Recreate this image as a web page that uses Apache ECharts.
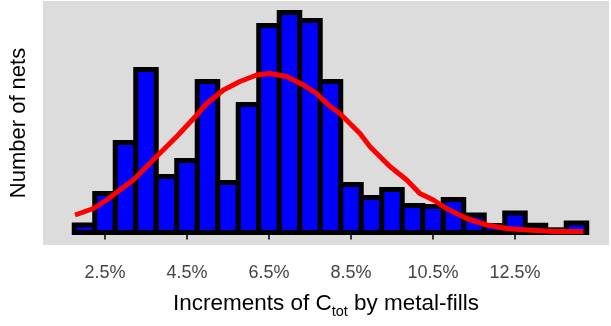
<!DOCTYPE html>
<html>
<head>
<meta charset="utf-8">
<script src="https://cdn.jsdelivr.net/npm/echarts@6/dist/echarts.min.js"></script>
<style>
html,body{margin:0;padding:0;background:#fff;}
#chart{width:611px;height:326px;}
</style>
</head>
<body>
<div id="chart"></div>
<script>
// Histogram bins (centre of each 0.5% bin, in %)
var binCenters = [2.0, 2.5, 3.0, 3.5, 4.0, 4.5, 5.0, 5.5, 6.0, 6.5, 7.0, 7.5, 8.0,
                  8.5, 9.0, 9.5, 10.0, 10.5, 11.0, 11.5, 12.0, 12.5, 13.0, 13.5, 14.0];
var binWidth = 0.5;
// Number of nets in each bin (relative units)
var binCounts = [7.5, 39, 90, 163, 56, 72, 151, 50, 128, 207, 220, 212, 151,
                 48, 35, 43, 27, 26, 33, 17.5, 7, 19.5, 7.3, 2.7, 9.5];
// Fitted density curve (x in %, y in same units)
var curveX = [1.77, 2.22, 2.54, 2.70, 3.19, 3.76, 4.25, 4.74, 4.98, 5.39, 5.79, 6.20,
              6.52, 6.93, 7.34, 7.66, 7.99, 8.23, 8.72, 8.96, 9.45, 9.86, 10.18, 10.51,
              10.83, 11.32, 11.81, 12.30, 12.79, 13.43, 14.17];
var curveY = [17.5, 24, 32.5, 37.5, 52.5, 76, 96, 117.5, 129, 142.5, 151, 157.5,
              159, 156, 147.5, 139, 126, 119, 99, 86, 66, 52.5, 39, 32.5,
              24, 14, 7.5, 4, 2.5, 1, 1];
// Axis ticks
var tickValues = [2.5, 4.5, 6.5, 8.5, 10.5, 12.5];
var tickLabels = ['2.5%', '4.5%', '6.5%', '8.5%', '10.5%', '12.5%'];

var barData = binCenters.map(function (x, i) { return [x, binCounts[i]]; });
var curveData = curveX.map(function (x, i) { return [x, curveY[i]]; });

var chart = echarts.init(document.getElementById('chart'), null, {renderer: 'canvas'});
var FONT = 'Liberation Sans, Arial, sans-serif';

function renderBar(params, api) {
  var x = api.value(0), y = api.value(1);
  var top = api.coord([x, y]);
  var base = api.coord([x, 0]);
  var w = api.size([binWidth, 0])[0];
  return {
    type: 'rect',
    shape: {x: top[0] - w / 2, y: top[1], width: w, height: base[1] - top[1]},
    style: {fill: '#0000FF', stroke: '#000000', lineWidth: 5}
  };
}

chart.setOption({
  animation: false,
  backgroundColor: '#ffffff',
  textStyle: {fontFamily: FONT},
  grid: {
    left: 43, right: 2, top: 1, bottom: 81,
    show: true, backgroundColor: '#DCDCDC', borderWidth: 0,
    containLabel: false
  },
  xAxis: {
    type: 'value',
    min: 0.988, max: 14.793,
    offset: 3,
    axisLine: {show: false},
    splitLine: {show: false},
    axisTick: {
      show: true, customValues: tickValues, length: 7,
      lineStyle: {color: '#333333', width: 2}
    },
    axisLabel: {
      show: true, customValues: tickValues, margin: 16,
      fontSize: 18, color: '#444444', fontFamily: FONT,
      formatter: function (v) {
        var k = tickValues.indexOf(v);
        return k >= 0 ? tickLabels[k] : '';
      }
    },
    name: '{a|Increments of C}{s|tot}{a| by metal-fills}',
    nameLocation: 'middle',
    nameGap: 44,
    nameTextStyle: {
      rich: {
        a: {fontSize: 22.5, color: '#000', fontFamily: FONT, verticalAlign: 'top', lineHeight: 26},
        s: {fontSize: 14.5, color: '#000', fontFamily: FONT, verticalAlign: 'top', lineHeight: 16, padding: [12, 0, 0, 0]}
      }
    }
  },
  yAxis: {
    type: 'value',
    min: -12.5, max: 231.5,
    axisLine: {show: false},
    axisTick: {show: false},
    axisLabel: {show: false},
    splitLine: {show: false},
    name: 'Number of nets',
    nameLocation: 'middle',
    nameRotate: 90,
    nameGap: 13,
    nameTextStyle: {fontSize: 22, color: '#000', fontFamily: FONT}
  },
  series: [
    {
      type: 'custom',
      data: barData,
      renderItem: renderBar,
      encode: {x: 0, y: 1},
      clip: false,
      emphasis: {disabled: true},
      z: 2
    },
    {
      type: 'line',
      data: curveData,
      showSymbol: false,
      symbol: 'none',
      smooth: false,
      lineStyle: {color: '#FF0000', width: 5},
      emphasis: {disabled: true},
      z: 3
    }
  ]
});
</script>
</body>
</html>
